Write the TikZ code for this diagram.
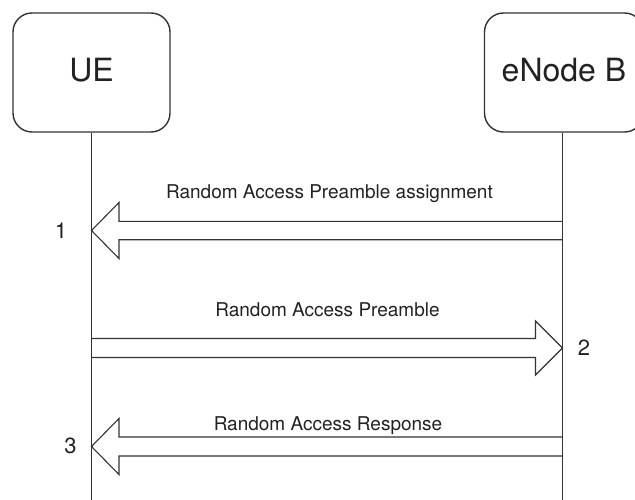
\documentclass[tikz,border=0pt]{standalone}
\usepackage{fontspec}
\setmainfont{TeX Gyre Heros}
\usetikzlibrary{calc}
\definecolor{ink}{HTML}{333333}
\definecolor{txt}{HTML}{222222}
\begin{document}
\begin{tikzpicture}[x=1pt, y=-1pt, line join=miter,
  entity/.style={draw=ink, line width=1.4pt, rounded corners=19pt,
    font=\fontsize{32}{38}\selectfont, text=txt, text depth=5pt,
    minimum height=119pt},
  lifeline/.style={draw=ink, line width=1.1pt},
  fatarrow/.style={draw=ink, line width=1.1pt},
  msg/.style={font=\fontsize{19}{23}\selectfont, text=txt, anchor=base},
  stepnum/.style={font=\fontsize{22}{26}\selectfont, text=txt, anchor=base}]
\clip (0,0) rectangle (635,500);

% participants
\node[entity, minimum width=157pt] (ue) at (91.5,72.5) {UE};
\node[entity, minimum width=159pt] (enb) at (564,72.5) {eNode B};

% lifelines
\coordinate (uetop) at (ue.south);
\coordinate (enbtop) at ($(enb.south)+(-1.5,0)$);
\coordinate (ueend) at (uetop |- 0,500);
\coordinate (enbend) at (enbtop |- 0,500);
\draw[lifeline] (uetop) -- (ueend);
\draw[lifeline] (enbtop) -- (enbend);

% message anchor points on the lifelines
\coordinate (u1) at (uetop |- 0,230.5);
\coordinate (e1) at (enbtop |- 0,230.5);
\coordinate (u2) at (uetop |- 0,348);
\coordinate (e2) at (enbtop |- 0,348);
\coordinate (u3) at (uetop |- 0,446.5);
\coordinate (e3) at (enbtop |- 0,446.5);

% 1: eNode B -> UE
\draw[fatarrow] ($(e1)+(0,-9.2)$) -- ($(u1)+(27.5,-9.2)$) -- ($(u1)+(27.5,-28)$)
  -- (u1) -- ($(u1)+(27.5,28)$) -- ($(u1)+(27.5,9.2)$) -- ($(e1)+(0,9.2)$);
\node[msg] (m1) at (329.5,198.5) {Random Access Preamble assignment};
\node[stepnum] (n1) at (61,238) {1};

% 2: UE -> eNode B
\draw[fatarrow] ($(u2)+(0,-9.5)$) -- ($(e2)+(-27,-9.5)$) -- ($(e2)+(-27,-27)$)
  -- (e2) -- ($(e2)+(-27,27)$) -- ($(e2)+(-27,9.5)$) -- ($(u2)+(0,9.5)$);
\node[msg] (m2) at (327.5,316.5) {Random Access Preamble};
\node[stepnum] (n2) at (584,355) {2};

% 3: eNode B -> UE
\draw[fatarrow] ($(e3)+(0,-9.5)$) -- ($(u3)+(27.5,-9.5)$) -- ($(u3)+(27.5,-28)$)
  -- (u3) -- ($(u3)+(27.5,28)$) -- ($(u3)+(27.5,9.5)$) -- ($(e3)+(0,9.5)$);
\node[msg] (m3) at (328,430.5) {Random Access Response};
\node[stepnum] (n3) at (70.5,453.5) {3};
\end{tikzpicture}
\end{document}
